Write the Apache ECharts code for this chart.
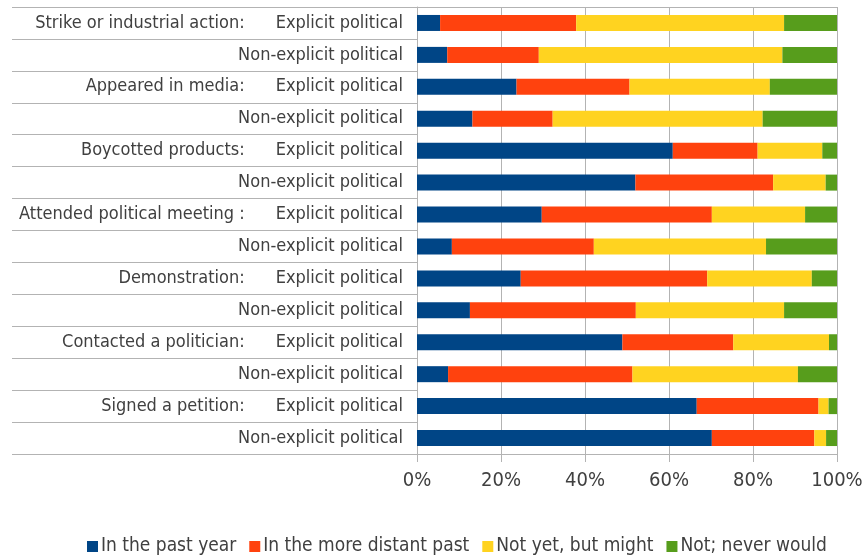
<!DOCTYPE html>
<html><head><meta charset="utf-8">
<script src="https://cdn.jsdelivr.net/npm/echarts@6/dist/echarts.min.js"></script>
<style>html,body{margin:0;padding:0;background:#fff}#c{width:862px;height:555px}</style>
</head><body><div id="c"></div>
<script>
const groups = ["Strike or industrial action:", "Appeared in media:", "Boycotted products:", "Attended political meeting :", "Demonstration:", "Contacted a politician:", "Signed a petition:"];
const subLabels = ["Explicit political", "Non-explicit political"];
const seriesNames = ["In the past year", "In the more distant past", "Not yet, but might", "Not; never would"];
const pastYear =    [5.5, 7.2, 23.7, 13.2, 60.9, 52.0, 29.7, 8.3, 24.7, 12.6, 48.9, 7.4, 66.6, 70.2];
const distantPast = [32.4, 21.8, 26.9, 19.1, 20.2, 32.8, 40.5, 33.8, 44.4, 39.5, 26.4, 43.9, 29.0, 24.4];
const mightDo =     [49.5, 58.0, 33.4, 50.0, 15.4, 12.5, 22.2, 41.0, 24.9, 35.3, 22.8, 39.4, 2.4, 2.8];
const neverWould =  [12.6, 13.0, 16.0, 17.7, 3.5, 2.7, 7.6, 16.9, 6.0, 12.6, 1.9, 9.3, 2.0, 2.6];
const xTicks = [0, 20, 40, 60, 80, 100];

const categories = [];
groups.forEach(g => { categories.push(g + "|" + subLabels[0]); categories.push("|" + subLabels[1]); });
const colors = ["#004586", "#ff420e", "#ffd320", "#579d1c"];
const FONT = "DejaVu Sans Condensed";
const TXT = '#404040';
const chart = echarts.init(document.getElementById('c'));
const dataSets = [pastYear, distantPast, mightDo, neverWould];
chart.setOption({
  animation: false,
  color: colors,
  grid: { left: 417, right: 25, top: 7, bottom: 101, containLabel: false, outerBoundsMode: 'none' },
  xAxis: {
    type: 'value', min: xTicks[0], max: xTicks[xTicks.length - 1], interval: 20,
    axisLine: { show: false },
    axisTick: { show: true, length: 8, lineStyle: { color: '#b3b3b3' } },
    splitLine: { show: true, lineStyle: { color: '#b3b3b3', width: 1 } },
    axisLabel: { formatter: '{value}%', margin: 17, fontFamily: FONT, fontSize: 20, color: TXT }
  },
  yAxis: {
    type: 'category', inverse: true, data: categories,
    axisLine: { show: true, lineStyle: { color: '#b3b3b3' } },
    axisTick: { show: true, length: 405, lineStyle: { color: '#b3b3b3' } },
    splitLine: { show: true, interval: (i) => i === 0, lineStyle: { color: '#b3b3b3' } },
    axisLabel: {
      margin: 14, fontFamily: FONT, fontSize: 18, color: TXT,
      formatter: (v) => {
        const p = v.split('|');
        return p[0] ? '{g|' + p[0] + '}{s|' + p[1] + '}' : '{s|' + p[1] + '}';
      },
      rich: {
        g: { fontFamily: FONT, fontSize: 18, color: TXT, padding: [0, 31, 0, 0] },
        s: { fontFamily: FONT, fontSize: 18, color: TXT }
      }
    }
  },
  legend: {
    top: 532, left: 82, itemWidth: 11, itemHeight: 11, itemGap: 13,
    icon: 'rect',
    textStyle: { fontFamily: FONT, fontSize: 19, color: TXT, padding: [0, 0, 0, -2] },
    data: seriesNames
  },
  series: seriesNames.map((n, i) => ({
    name: n, type: 'bar', stack: 'total', barWidth: 16,
    data: dataSets[i]
  }))
});
</script></body></html>
